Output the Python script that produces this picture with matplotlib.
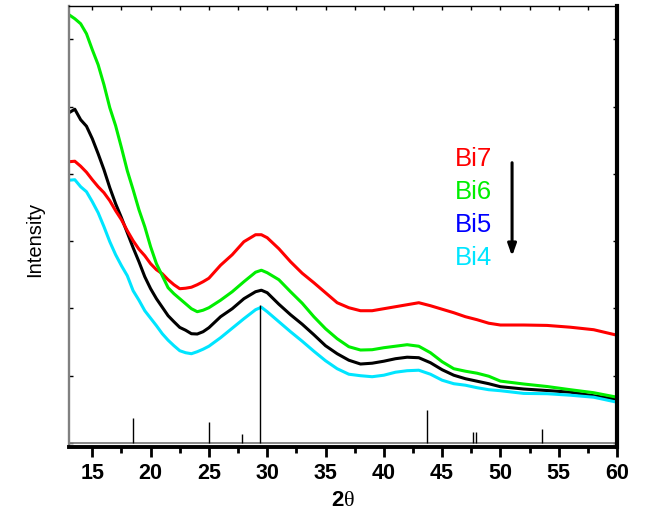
import matplotlib
matplotlib.use('Agg')
import matplotlib.pyplot as plt
from matplotlib.ticker import MultipleLocator

plt.rcParams['font.family'] = ['Liberation Sans', 'DejaVu Sans']
plt.rcParams['mathtext.fontset'] = 'custom'
plt.rcParams['mathtext.bf'] = 'Liberation Sans:bold'
plt.rcParams['mathtext.rm'] = 'Liberation Serif'

# 2-theta grid the curves were read at
two_theta = [13, 13.5, 14, 14.5, 15, 15.5, 16, 16.5, 17, 17.5, 18, 18.5, 19, 19.5,
             20, 20.5, 21, 21.5, 22, 22.5, 23, 23.5, 24, 24.5, 25, 26, 27, 28, 29,
             29.5, 30, 31, 32, 33, 34, 35, 36, 37, 38, 39, 40, 41, 42, 43, 44, 45,
             46, 47, 48, 49, 50, 52, 54, 56, 58, 60]

bi7 = [281, 281.5, 276.5, 270.5, 263, 256, 250, 242, 232, 223, 212, 202, 193.5, 187,
       179, 173, 169, 163, 158, 154, 154.5, 155.5, 158, 161, 164.5, 177.5, 188, 201, 208,
       208, 205, 194, 181, 169.5, 160, 150, 140, 135, 132, 132, 134, 136, 138, 140, 137,
       133.5, 130, 126, 123, 119.5, 117.7, 117.7, 117.3, 115.5, 113, 107.5]

bi6 = [428, 424, 419, 409, 393, 378, 358, 335, 317, 295, 272, 253, 233, 216,
       196, 179, 167, 155, 149, 144, 139, 134, 131, 132.5, 135, 142.5, 151, 161, 170.5,
       172.5, 170, 163, 151, 139.5, 126, 114, 104, 96, 92.7, 93, 95, 96.5, 98, 96.5, 90,
       81, 74, 71.5, 69.5, 66.5, 61.6, 58.7, 56.2, 53, 50, 45.5]

bi5 = [330, 333.5, 323, 316.5, 304, 289, 273, 255, 239, 225, 210, 195, 181, 166,
       154, 144, 135.5, 127, 121, 115.3, 112.5, 109, 108.7, 111, 115, 126, 134, 144, 151,
       152.5, 150, 138.5, 128, 118.5, 108, 97, 89, 82.5, 78.7, 79.5, 81.5, 84, 85.5, 85, 80,
       73, 67.5, 64, 61.5, 59, 56, 53.7, 52.2, 50.5, 47, 43.3]

bi4 = [262.5, 263, 256, 251, 241, 230, 216, 201, 188, 177, 167, 152, 142.5, 132,
       124.5, 117, 109, 102.5, 97, 92, 90, 89, 91, 93.5, 96.5, 105, 114.5, 124, 133,
       135.5, 131, 121, 111, 101.5, 91.5, 82, 74, 68.5, 67, 66, 67.5, 70.5, 72, 72.5, 68.5,
       62.5, 59, 57.5, 55, 53, 52, 49.3, 49, 47.5, 45.5, 40.5]

# reference pattern sticks
stick_pos = [18.5, 25.0, 27.8, 29.4, 43.7, 47.65, 47.9, 53.6]
stick_height = [25, 21, 9, 138, 33, 11, 11, 14]

labels = ['Bi7', 'Bi6', 'Bi5', 'Bi4']
colors = ['#ff0000', '#00ee00', '#0000ff', '#00e5ff']

fig = plt.figure(figsize=(6.49, 5.11), dpi=100)
ax = fig.add_axes([0.1063, 0.1262, 0.8444, 0.862])

ax.plot(two_theta, bi5, color='black', lw=2.2)
ax.plot(two_theta, bi7, color=colors[0], lw=2.2)
ax.plot(two_theta, bi6, color=colors[1], lw=2.2)
ax.plot(two_theta, bi4, color=colors[3], lw=2.2)

ax.axhline(0, color='#808080', lw=1.3)
ax.vlines(stick_pos, 0, stick_height, color='black', lw=1.0)

ax.set_xlim(13, 60)
ax.set_ylim(-3.8, 436.7)

ax.xaxis.set_major_locator(MultipleLocator(5))
ax.xaxis.set_minor_locator(MultipleLocator(2.5))
ax.set_yticks([0, 67, 135, 202, 269, 336, 404])
ax.set_yticklabels([])

ax.tick_params(axis='x', which='major', direction='out', length=7, width=2,
               labelsize=15.5, pad=5, top=True)
ax.tick_params(axis='x', which='minor', direction='out', length=4, width=2, top=True)
for lab in ax.get_xticklabels():
    lab.set_fontweight('bold')
ax.tick_params(axis='y', direction='in', length=3, width=1, right=True)

# top ticks point inward and are thin
for t in ax.xaxis.get_major_ticks() + ax.xaxis.get_minor_ticks():
    t.tick2line.set_markersize(3)
    t.tick2line.set_markeredgewidth(1)
    t.tick2line.set_marker(3)

ax.spines['top'].set_linewidth(1.0)
ax.spines['left'].set_color('#808080')
ax.spines['left'].set_linewidth(1.7)
ax.spines['right'].set_linewidth(3)
ax.spines['bottom'].set_linewidth(2.8)

ax.set_xlabel(r'$\mathbf{2}\mathrm{θ}$', fontsize=16, labelpad=4)
ax.set_ylabel('Intensity', fontsize=14.5)
ax.yaxis.set_label_coords(-0.045, 0.47)

for i, (lab, col) in enumerate(zip(labels, colors)):
    ax.text(46.1, 283.5 - i * 33, lab, color=col, fontsize=18.5, va='center', ha='left')

ax.annotate('', xy=(51.0, 186.5), xytext=(51.0, 280),
            arrowprops=dict(arrowstyle='-|>,head_length=0.7,head_width=0.25',
                            color='black', lw=2.2, shrinkA=0, shrinkB=0))

fig.savefig('out.png', dpi=100)
